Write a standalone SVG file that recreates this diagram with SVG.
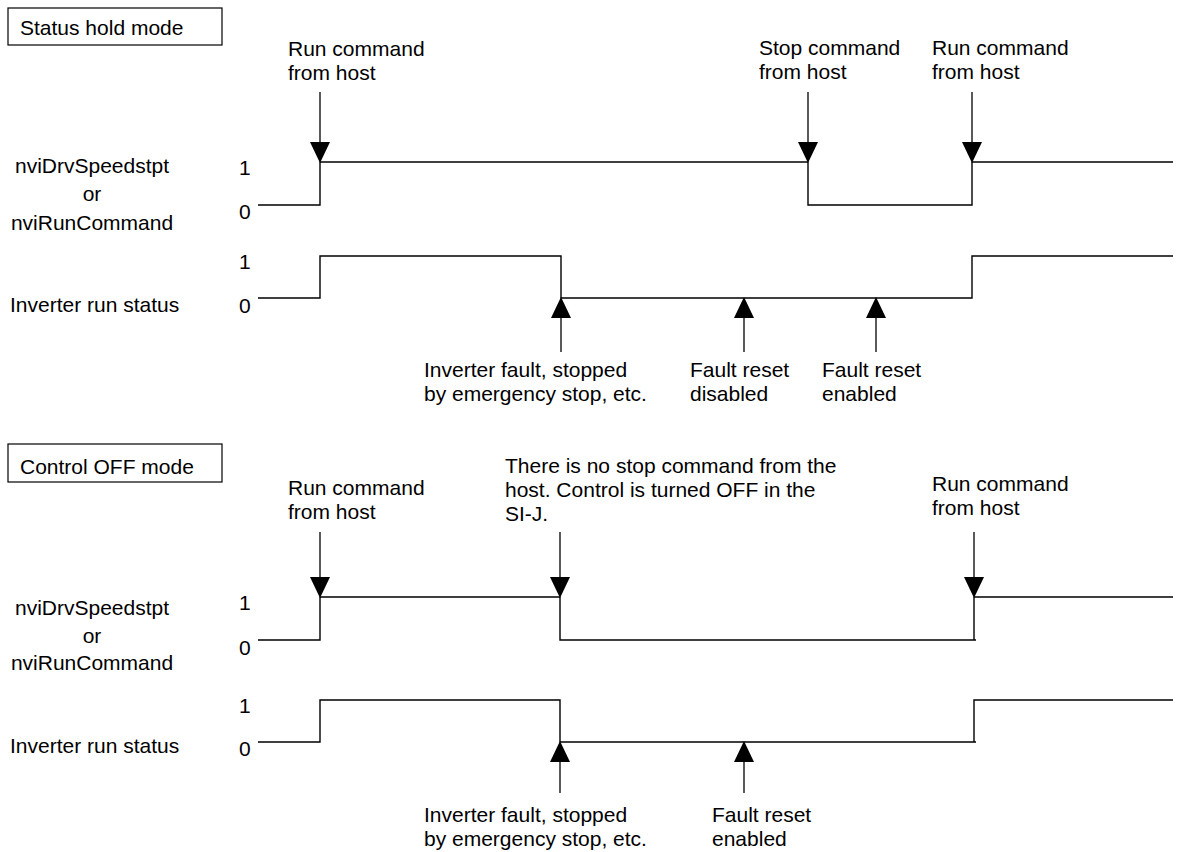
<svg xmlns="http://www.w3.org/2000/svg" width="1179" height="852" viewBox="0 0 1179 852">
<defs>
<style>
text{font-family:"Liberation Sans",Arial,sans-serif;font-size:21px;fill:#000}
.box{fill:#fff;stroke:#000;stroke-width:1.2}
.sig{fill:none;stroke:#000;stroke-width:1.4}
.ln{stroke:#000;stroke-width:1.3;fill:none}
.ah{fill:#000}
.mid{text-anchor:middle}
</style>
</defs>
<rect width="1179" height="852" fill="#fff"/>

<!-- ===== Status hold mode ===== -->
<g id="title1"><rect class="box" x="8" y="8" width="214" height="37"/><text x="20" y="35">Status hold mode</text></g>

<g id="labels1">
<text class="mid" x="92" y="173">nviDrvSpeedstpt</text>
<text class="mid" x="92" y="201">or</text>
<text class="mid" x="92" y="230">nviRunCommand</text>
<text x="10" y="312">Inverter run status</text>
<text x="239" y="175">1</text>
<text x="239" y="219">0</text>
<text x="239" y="269">1</text>
<text x="239" y="313">0</text>
</g>

<g id="ev1-run"><text x="288" y="56">Run command</text><text x="288" y="80">from host</text></g>
<g id="ev1-stop"><text x="759" y="55">Stop command</text><text x="759" y="79">from host</text></g>
<g id="ev1-run2"><text x="932" y="55">Run command</text><text x="932" y="79">from host</text></g>
<g id="ev1-fault"><text x="424" y="377">Inverter fault, stopped</text><text x="424" y="401">by emergency stop, etc.</text></g>
<g id="ev1-dis"><text x="690" y="377">Fault reset</text><text x="690" y="401">disabled</text></g>
<g id="ev1-en"><text x="822" y="377">Fault reset</text><text x="822" y="401">enabled</text></g>

<g id="signals1">
<polyline class="sig" points="258,205 320,205 320,162 808,162 808,205 972,205 972,162 1173,162"/>
<polyline class="sig" points="258,298 320,298 320,256 561,256 561,298 972,298 972,256 1173,256"/>
</g>

<g id="connectors1">
<line class="ln" x1="320" y1="92" x2="320" y2="145"/><polygon class="ah" points="310,142 330,142 320,163"/>
<line class="ln" x1="808" y1="92" x2="808" y2="145"/><polygon class="ah" points="798,142 818,142 808,163"/>
<line class="ln" x1="972" y1="92" x2="972" y2="145"/><polygon class="ah" points="962,142 982,142 972,163"/>
<line class="ln" x1="561" y1="315" x2="561" y2="352"/><polygon class="ah" points="551,318 571,318 561,297"/>
<line class="ln" x1="744" y1="315" x2="744" y2="352"/><polygon class="ah" points="734,318 754,318 744,297"/>
<line class="ln" x1="876" y1="315" x2="876" y2="352"/><polygon class="ah" points="866,318 886,318 876,297"/>
</g>

<!-- ===== Control OFF mode ===== -->
<g id="title2"><rect class="box" x="8" y="444" width="214" height="38"/><text x="20" y="474">Control OFF mode</text></g>

<g id="labels2">
<text class="mid" x="92" y="615">nviDrvSpeedstpt</text>
<text class="mid" x="92" y="643">or</text>
<text class="mid" x="92" y="670">nviRunCommand</text>
<text x="10" y="753">Inverter run status</text>
<text x="239" y="610">1</text>
<text x="239" y="655">0</text>
<text x="239" y="713">1</text>
<text x="239" y="756">0</text>
</g>

<g id="ev2-run"><text x="288" y="495">Run command</text><text x="288" y="519">from host</text></g>
<g id="ev2-off"><text x="505" y="473">There is no stop command from the</text><text x="505" y="497">host. Control is turned OFF in the</text><text x="505" y="521">SI-J.</text></g>
<g id="ev2-run2"><text x="932" y="491">Run command</text><text x="932" y="515">from host</text></g>
<g id="ev2-fault"><text x="424" y="822">Inverter fault, stopped</text><text x="424" y="846">by emergency stop, etc.</text></g>
<g id="ev2-en"><text x="712" y="822">Fault reset</text><text x="712" y="846">enabled</text></g>

<g id="signals2">
<polyline class="sig" points="258,640 320,640 320,597 560,597 560,640 976,640"/>
<polyline class="sig" points="974,640 974,597 1173,597"/>
<polyline class="sig" points="258,742 320,742 320,700 560,700 560,742 976,742"/>
<polyline class="sig" points="974,742 974,700 1173,700"/>
</g>

<g id="connectors2">
<line class="ln" x1="320" y1="532" x2="320" y2="580"/><polygon class="ah" points="310,577 330,577 320,598"/>
<line class="ln" x1="560" y1="532" x2="560" y2="580"/><polygon class="ah" points="550,577 570,577 560,598"/>
<line class="ln" x1="974" y1="532" x2="974" y2="580"/><polygon class="ah" points="964,577 984,577 974,598"/>
<line class="ln" x1="560" y1="759" x2="560" y2="793"/><polygon class="ah" points="550,762 570,762 560,741"/>
<line class="ln" x1="744" y1="759" x2="744" y2="793"/><polygon class="ah" points="734,762 754,762 744,741"/>
</g>
</svg>
